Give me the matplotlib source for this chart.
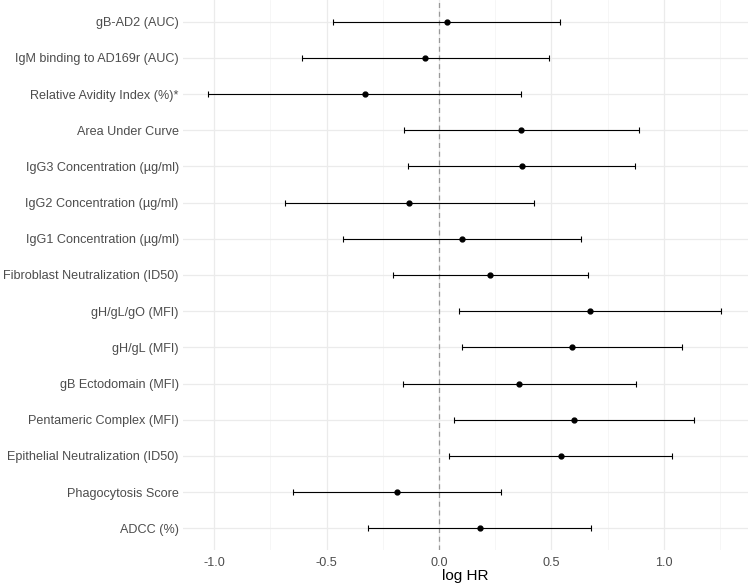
import matplotlib.pyplot as plt

# variables (top to bottom as shown)
labels = ["gB-AD2 (AUC)", "IgM binding to AD169r (AUC)", "Relative Avidity Index (%)*",
          "Area Under Curve", "IgG3 Concentration (µg/ml)", "IgG2 Concentration (µg/ml)",
          "IgG1 Concentration (µg/ml)", "Fibroblast Neutralization (ID50)", "gH/gL/gO (MFI)",
          "gH/gL (MFI)", "gB Ectodomain (MFI)", "Pentameric Complex (MFI)",
          "Epithelial Neutralization (ID50)", "Phagocytosis Score", "ADCC (%)"]
log_hr = [0.033, -0.061, -0.331, 0.366, 0.367, -0.134, 0.103, 0.228, 0.670,
          0.590, 0.357, 0.598, 0.541, -0.189, 0.180]
ci_low = [-0.474, -0.610, -1.028, -0.156, -0.138, -0.685, -0.426, -0.203, 0.089,
          0.100, -0.161, 0.066, 0.043, -0.651, -0.315]
ci_high = [0.538, 0.489, 0.364, 0.887, 0.872, 0.420, 0.631, 0.661, 1.254,
           1.082, 0.877, 1.133, 1.038, 0.275, 0.677]

plt.rcParams['font.family'] = ['Liberation Sans', 'DejaVu Sans']

fig = plt.figure(figsize=(7.48, 5.87), dpi=100)
ax = fig.add_axes([183 / 748, 1 - 550 / 587, 1 - 183 / 748, 550 / 587])

ypos = list(range(len(labels), 0, -1))
err = [[m - l for m, l in zip(log_hr, ci_low)], [h - m for m, h in zip(log_hr, ci_high)]]

# grid (theme_minimal look)
for x in [-1.0, -0.5, 0.0, 0.5, 1.0]:
    ax.axvline(x, color="#EBEBEB", lw=0.9, zorder=0)
for x in [-0.75, -0.25, 0.25, 0.75, 1.25]:
    ax.axvline(x, color="#F3F3F3", lw=0.5, zorder=0)
for y in ypos:
    ax.axhline(y, color="#EBEBEB", lw=0.9, zorder=0)

ax.axvline(0, color="#999999", lw=0.9, ls=(0, (4, 3)), zorder=1)
ax.errorbar(log_hr, ypos, xerr=err, fmt="o", color="black", ms=3.5,
            elinewidth=0.8, capsize=2, capthick=0.8, zorder=2)

ax.set_xlim(-1.139, 1.374)
ax.set_ylim(0.4, len(labels) + 0.6)
ax.set_xticks([-1.0, -0.5, 0.0, 0.5, 1.0])
ax.set_xticklabels(["-1.0", "-0.5", "0.0", "0.5", "1.0"])
ax.set_yticks(ypos)
ax.set_yticklabels(labels)
ax.tick_params(length=0, labelsize=9.1, labelcolor="#4D4D4D")
ax.tick_params(axis="x", pad=5)
ax.tick_params(axis="y", pad=3)
for s in ax.spines.values():
    s.set_visible(False)
ax.set_xlabel("log HR", fontsize=11, labelpad=0)

fig.savefig("out.png", dpi=100)
